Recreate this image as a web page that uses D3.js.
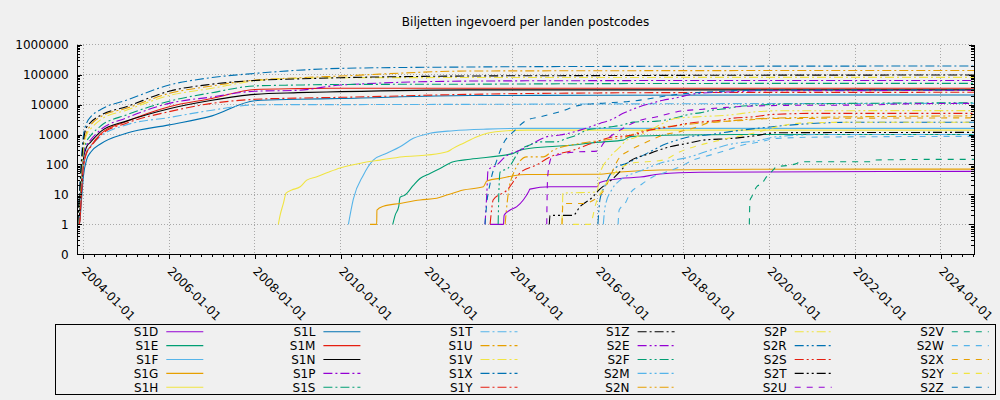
<!DOCTYPE html>
<html>
<head>
<meta charset="utf-8">
<script src="https://cdn.jsdelivr.net/npm/d3@7"></script>
<style>
body { margin: 0; background: #f0f0f0; }
svg { display: block; font-family: "DejaVu Sans", sans-serif; }
</style>
</head>
<body>
<svg id="chart"></svg>
<script>
const title = 'Biljetten ingevoerd per landen postcodes';

const seriesNames = ['S1D', 'S1E', 'S1F', 'S1G', 'S1H', 'S1L', 'S1M', 'S1N', 'S1P', 'S1S',
    'S1T', 'S1U', 'S1V', 'S1X', 'S1Y', 'S1Z', 'S2E', 'S2F', 'S2M', 'S2N',
    'S2P', 'S2R', 'S2S', 'S2T', 'S2U', 'S2V', 'S2W', 'S2X', 'S2Y', 'S2Z'];

const xTickLabels = ['2004-01-01', '2006-01-01', '2008-01-01', '2010-01-01', '2012-01-01', '2014-01-01',
    '2016-01-01', '2018-01-01', '2020-01-01', '2022-01-01', '2024-01-01'];
const yTickValues = [0.1, 1, 10, 100, 1000, 10000, 100000, 1000000];

/* postcodes that started with the launch share these dates */
const earlyDates = ['2003-11-12', '2003-11-28', '2003-12-15', '2004-01-01', '2004-01-30', '2004-03-01',
    '2004-06-01', '2005-01-01', '2006-01-01', '2007-01-01', '2008-01-01', '2009-01-01',
    '2010-01-01', '2013-01-01', '2016-01-01', '2020-01-01', '2024-10-13'];

const S1L = [1, 1, 6, 40, 150, 250, 500, 1100, 2100, 4200, 13500, 15000, 16000, 20000, 20500, 21000, 21000];
const S1M = [1, 1, 10, 80, 250, 400, 1100, 2700, 8500, 16000, 32000, 34000, 35000, 35000, 35000, 35000, 35000];
const S1N = [1, 2, 20, 150, 400, 550, 1300, 2800, 7300, 14000, 22000, 25000, 27000, 31000, 31000, 31000, 31000];
const S1P = [1, 3, 25, 200, 450, 650, 1500, 3600, 11000, 18000, 28000, 30000, 45000, 61000, 63000, 64000, 64000];
const S1S = [1, 4, 30, 250, 600, 900, 2000, 4500, 13000, 25000, 42000, 45000, 47000, 48000, 50000, 51000, 51000];
const S1T = [1, 2, 15, 100, 280, 400, 900, 2100, 3700, 6500, 9800, 10000, 10000, 10200, 10500, 10800, 11000];
const S1U = [1, 6, 60, 400, 1200, 2000, 4000, 7500, 23600, 42000, 66000, 78000, 90000, 132000, 135000, 137000, 138000];
const S1V = [1, 5, 50, 350, 1000, 1500, 3200, 6500, 20000, 35000, 62000, 75000, 79000, 80000, 80500, 81000, 81000];
const S1X = [1, 10, 150, 900, 2500, 3800, 7000, 14000, 45000, 80000, 110000, 140000, 162000, 180000, 188000, 192000, 194000];
const S1Y = [1, 1, 12, 90, 260, 380, 1000, 2400, 5800, 11000, 15000, 16500, 17500, 22000, 24500, 25500, 25700];
const S1Z = [1, 8, 100, 600, 1800, 2500, 4500, 8500, 28000, 48000, 64000, 72000, 79000, 90000, 93000, 96000, 97000];

/* later postcodes: [date, count] */
const S1D = [['2013-06-27', 1], ['2013-10-19', 1], ['2013-10-25', 2], ['2013-12-15', 3], ['2014-02-10', 3.9],
    ['2014-04-06', 6.5], ['2014-05-20', 12], ['2014-06-02', 15], ['2014-11-20', 18], ['2015-12-25', 18],
    ['2016-01-19', 25], ['2016-07-09', 34], ['2016-12-27', 38], ['2017-06-14', 48], ['2018-05-21', 55],
    ['2024-10-13', 59]];
const S1E = [['2011-03-21', 1], ['2011-04-10', 2], ['2011-05-11', 4], ['2011-05-22', 8], ['2011-07-03', 9.5],
    ['2011-09-12', 20], ['2011-11-08', 34], ['2012-02-01', 50], ['2012-04-27', 74], ['2012-08-18', 123],
    ['2013-01-08', 150], ['2014-01-12', 235], ['2014-03-09', 300], ['2014-10-26', 390], ['2015-06-04', 445],
    ['2015-09-28', 505], ['2016-02-17', 570], ['2016-08-04', 650], ['2016-10-03', 850], ['2017-12-02', 960],
    ['2019-08-16', 1000], ['2024-10-13', 1000]];
const S1F = [['2010-03-08', 1], ['2010-04-19', 7], ['2010-07-13', 44], ['2010-10-06', 140], ['2011-01-29', 236],
    ['2011-05-22', 390], ['2011-09-12', 745], ['2012-02-01', 1100], ['2012-08-18', 1340], ['2013-05-30', 1520],
    ['2014-03-09', 1600], ['2024-10-13', 1600]];
const S1G = [['2010-09-08', 1], ['2010-11-04', 1], ['2010-11-06', 3], ['2010-12-31', 4], ['2011-05-22', 5],
    ['2011-11-08', 6.5], ['2012-03-29', 7.4], ['2012-06-23', 9.5], ['2012-11-11', 14], ['2013-05-01', 18],
    ['2013-05-30', 28], ['2013-10-19', 36], ['2014-01-12', 42], ['2014-05-05', 46], ['2016-01-02', 47],
    ['2016-07-09', 56], ['2017-06-14', 65], ['2019-08-16', 69], ['2024-10-13', 70]];
const S1H = [['2008-07-19', 1], ['2008-08-03', 2], ['2008-08-31', 5], ['2008-09-23', 11], ['2008-11-10', 14],
    ['2009-01-21', 18], ['2009-03-18', 30], ['2009-06-12', 39], ['2009-09-18', 55], ['2009-12-27', 76],
    ['2010-07-10', 114], ['2010-12-02', 140], ['2011-06-17', 182], ['2012-01-07', 206], ['2012-06-26', 265],
    ['2012-08-16', 345], ['2012-11-08', 505], ['2013-03-08', 850], ['2013-06-02', 1100], ['2013-11-19', 1340],
    ['2014-05-08', 1400], ['2024-10-13', 1400]];
const S2E = [['2013-05-15', 1], ['2013-05-30', 10], ['2013-06-10', 65], ['2013-08-24', 96], ['2013-11-02', 180],
    ['2014-03-09', 300], ['2014-06-02', 445], ['2014-10-26', 850], ['2015-02-13', 960], ['2015-08-03', 1400],
    ['2016-01-19', 2350], ['2016-04-15', 3000], ['2016-08-04', 5100], ['2016-10-20', 6900], ['2017-04-16', 11500],
    ['2017-07-10', 14000], ['2017-10-03', 16000], ['2018-04-26', 23500], ['2019-04-01', 27000],
    ['2019-10-14', 29000], ['2024-10-13', 29500]];
const S2F = [['2013-09-04', 1], ['2013-09-12', 20], ['2013-09-21', 56], ['2013-11-28', 76], ['2014-03-09', 300],
    ['2014-06-02', 450], ['2014-08-27', 570], ['2015-01-16', 570], ['2015-04-11', 745], ['2015-07-05', 960],
    ['2015-09-28', 1400], ['2016-01-02', 1600], ['2016-04-15', 1800], ['2016-08-04', 2100], ['2016-10-28', 2600],
    ['2017-05-20', 2800], ['2017-12-02', 3900], ['2018-02-25', 4800], ['2018-05-21', 5300], ['2018-09-09', 6600],
    ['2019-01-05', 7400], ['2019-04-01', 8500], ['2019-10-14', 9600], ['2020-02-02', 10300], ['2024-10-13', 11500]];
const S2M = [['2016-02-17', 1], ['2016-03-03', 3.9], ['2016-05-02', 15], ['2016-07-09', 30], ['2016-12-27', 60],
    ['2017-06-14', 110], ['2018-02-25', 180], ['2018-08-14', 300], ['2019-01-05', 445], ['2019-10-14', 650],
    ['2020-03-07', 850], ['2021-03-08', 1000], ['2024-10-13', 1000]];
const S2N = [['2013-11-02', 1], ['2013-11-28', 10], ['2014-01-12', 50], ['2014-05-05', 180], ['2014-09-24', 180],
    ['2014-12-18', 300], ['2015-08-03', 505], ['2016-02-17', 650], ['2016-09-04', 850], ['2016-12-27', 1250],
    ['2017-12-27', 2100], ['2019-01-05', 2800], ['2019-12-13', 3500], ['2024-10-13', 4200]];
const S2P = [['2015-03-02', 1], ['2015-03-11', 11], ['2015-12-25', 12], ['2016-01-19', 50], ['2016-04-15', 180],
    ['2016-07-09', 390], ['2016-09-04', 650], ['2016-10-28', 750], ['2017-02-24', 1250], ['2017-11-06', 3500],
    ['2018-04-26', 3900], ['2019-01-31', 4500], ['2019-09-19', 5800], ['2020-03-07', 6200], ['2024-10-13', 6300]];
const S2R = [['2016-01-02', 1], ['2016-01-19', 6.5], ['2016-03-03', 20], ['2016-05-27', 76], ['2016-09-04', 110],
    ['2016-12-27', 180], ['2017-04-16', 300], ['2017-07-10', 445], ['2017-11-06', 650], ['2018-02-25', 850],
    ['2018-07-20', 960], ['2019-01-31', 1250], ['2019-10-14', 1650], ['2020-09-19', 2200], ['2021-11-19', 2560],
    ['2024-10-13', 2560]];
const S2S = [['2013-06-27', 1], ['2013-07-10', 3], ['2013-07-23', 6.5], ['2013-11-19', 14], ['2014-03-09', 52],
    ['2014-08-01', 98], ['2014-11-20', 178], ['2015-06-04', 300], ['2015-11-21', 520], ['2016-04-15', 800],
    ['2016-10-28', 960], ['2017-02-24', 1340], ['2017-06-14', 1600], ['2017-10-03', 1900], ['2018-01-30', 2350],
    ['2018-11-07', 3000], ['2019-02-26', 3500], ['2019-08-16', 3900], ['2020-02-02', 4700], ['2021-03-08', 5100],
    ['2024-10-13', 5100]];
const S2T = [['2014-11-14', 1], ['2014-11-20', 2], ['2015-06-04', 2], ['2015-08-03', 3.9], ['2015-11-21', 8.4],
    ['2015-12-25', 12], ['2016-05-27', 39], ['2016-07-20', 65], ['2016-09-04', 108], ['2017-03-21', 235],
    ['2017-09-07', 390], ['2018-01-30', 505], ['2018-06-16', 650], ['2019-02-26', 745], ['2019-08-16', 890],
    ['2020-03-07', 1150], ['2024-10-13', 1180]];
const S2U = [['2014-10-23', 1], ['2014-10-28', 20], ['2014-11-03', 52], ['2014-12-07', 180], ['2015-06-21', 260],
    ['2015-12-25', 280], ['2016-03-03', 600], ['2016-07-09', 1400], ['2016-12-27', 3000], ['2017-05-20', 3900],
    ['2017-11-06', 5800], ['2018-06-16', 7000], ['2018-12-03', 7900], ['2019-04-01', 8500], ['2020-09-19', 9500],
    ['2022-03-27', 9600], ['2023-01-19', 10500], ['2024-10-13', 11000]];
const S2V = [['2019-07-15', 1], ['2019-07-21', 6.5], ['2019-08-05', 8.4], ['2019-09-16', 18], ['2019-10-29', 23],
    ['2019-12-10', 39], ['2020-01-07', 50], ['2020-02-02', 65], ['2020-03-05', 84], ['2020-06-26', 95],
    ['2020-08-22', 108], ['2020-09-19', 123], ['2022-05-09', 123], ['2022-06-03', 140], ['2023-12-25', 148],
    ['2024-10-13', 148]];
const S2W = [['2016-06-22', 1], ['2016-07-01', 3], ['2016-08-21', 5], ['2016-10-03', 11], ['2016-12-27', 20],
    ['2017-04-16', 39], ['2017-08-13', 57], ['2017-12-02', 84], ['2018-03-22', 140], ['2018-08-14', 205],
    ['2019-01-05', 300], ['2019-05-22', 445], ['2019-10-14', 570], ['2020-03-07', 745], ['2021-03-08', 820],
    ['2024-10-13', 870]];
const S2X = [['2015-03-02', 1], ['2015-03-11', 5], ['2015-08-28', 5], ['2016-02-03', 11], ['2016-07-09', 180],
    ['2016-10-03', 300], ['2017-02-24', 570], ['2017-07-10', 960], ['2017-12-02', 1250], ['2018-04-26', 1800],
    ['2018-08-14', 2500], ['2019-06-25', 3000], ['2019-12-13', 3400], ['2024-10-13', 3600]];
const S2Y = [['2015-06-04', 1], ['2015-10-26', 1], ['2015-12-16', 5], ['2016-03-03', 20], ['2016-07-09', 74],
    ['2016-10-03', 108], ['2017-07-10', 140], ['2017-12-02', 265], ['2018-11-07', 650], ['2019-08-16', 1100],
    ['2020-03-07', 1800], ['2020-09-19', 2400], ['2021-11-19', 2560], ['2024-10-13', 2560]];
const S2Z = [['2013-05-15', 1], ['2013-05-30', 5], ['2013-06-27', 23], ['2013-08-24', 140], ['2013-10-19', 505],
    ['2014-01-12', 1240], ['2014-05-05', 3000], ['2014-08-27', 3900], ['2015-02-13', 5800], ['2015-08-03', 9600],
    ['2016-01-19', 11000], ['2016-09-04', 12500], ['2018-01-30', 23700], ['2020-03-05', 30700],
    ['2024-10-13', 30700]];

const earlySeries = {S1L, S1M, S1N, S1P, S1S, S1T, S1U, S1V, S1X, S1Y, S1Z};
const lateSeries = {S1D, S1E, S1F, S1G, S1H, S2E, S2F, S2M, S2N, S2P, S2R, S2S, S2T, S2U, S2V, S2W, S2X, S2Y, S2Z};

const colors = ['#9400d3', '#009e73', '#56b4e9', '#e69f00', '#f0e442', '#0072b2', '#e51e10', '#000000'];
const dashes = [null, '9,3,2,3', '9,3,2,3,2,3', '6,6'];

const parseDate = d3.timeParse('%Y-%m-%d');

const series = seriesNames.map((name, i) => {
    let points;
    if (earlySeries[name]) {
        points = earlySeries[name].map((v, j) => ({date: parseDate(earlyDates[j]), value: v}));
    } else {
        points = lateSeries[name].map(p => ({date: parseDate(p[0]), value: p[1]}));
    }
    return {name: name, points: points, color: colors[i % 8], dash: dashes[Math.floor(i / 8)]};
});

draw_chart();

function draw_chart() {
    const plot = {left: 76.7, right: 974.3, top: 44.7, bottom: 254.3};

    const svg = d3.select('#chart')
        .attr('width', 1000)
        .attr('height', 400);

    svg.append('rect')
        .attr('width', 1000)
        .attr('height', 400)
        .attr('fill', '#f0f0f0');

    const x = d3.scaleTime()
        .domain([parseDate('2003-11-05'), parseDate('2024-10-13')])
        .range([plot.left, plot.right]);

    const y = d3.scaleLog()
        .domain([0.1, 1000000])
        .range([plot.bottom, plot.top]);

    /* title */
    svg.append('text')
        .attr('x', 525.5)
        .attr('y', 26)
        .attr('text-anchor', 'middle')
        .attr('font-size', 12)
        .text(title);

    /* dotted grid */
    const grid = svg.append('g')
        .attr('stroke', '#a8a8a8')
        .attr('stroke-width', 1)
        .attr('stroke-dasharray', '1,2')
        .attr('shape-rendering', 'crispEdges');

    grid.selectAll('.gy')
        .data(yTickValues.slice(1))
        .enter().append('line')
        .attr('x1', plot.left)
        .attr('x2', plot.right)
        .attr('y1', d => y(d))
        .attr('y2', d => y(d));

    grid.selectAll('.gx')
        .data(xTickLabels.map(parseDate))
        .enter().append('line')
        .attr('x1', d => x(d))
        .attr('x2', d => x(d))
        .attr('y1', plot.top)
        .attr('y2', plot.bottom);

    /* lines */
    svg.append('clipPath')
        .attr('id', 'clip')
        .append('rect')
        .attr('x', plot.left)
        .attr('y', plot.top - 2)
        .attr('width', plot.right - plot.left)
        .attr('height', plot.bottom - plot.top + 2);

    const line = d3.line()
        .curve(d3.curveMonotoneX)
        .x(d => x(d.date))
        .y(d => y(d.value));

    svg.append('g')
        .attr('clip-path', 'url(#clip)')
        .selectAll('path')
        .data(series)
        .enter().append('path')
        .attr('fill', 'none')
        .attr('stroke', d => d.color)
        .attr('stroke-width', 1.1)
        .attr('stroke-dasharray', d => d.dash)
        .attr('d', d => line(d.points));

    /* minor log ticks */
    const minorY = [];
    for (let k = -1; k <= 5; k++) {
        for (let m = 2; m <= 9; m++) minorY.push(m * Math.pow(10, k));
    }

    const styleAxis = g => g
        .attr('font-size', 12)
        .attr('font-family', '"DejaVu Sans", sans-serif')
        .attr('shape-rendering', 'crispEdges');

    /* left axis */
    svg.append('g')
        .attr('transform', 'translate(' + plot.left + ',0)')
        .call(d3.axisLeft(y)
            .tickValues(yTickValues)
            .tickFormat(d => d < 1 ? '0' : d3.format('d')(d))
            .tickSize(-5)
            .tickSizeOuter(0)
            .tickPadding(8))
        .call(styleAxis)
        .selectAll('text')
        .attr('fill', '#000');

    svg.append('g')
        .attr('transform', 'translate(' + plot.left + ',0)')
        .call(d3.axisLeft(y).tickValues(minorY).tickFormat('').tickSize(-3).tickSizeOuter(0))
        .call(styleAxis)
        .call(g => g.select('.domain').remove());

    /* right axis, mirrored ticks */
    svg.append('g')
        .attr('transform', 'translate(' + plot.right + ',0)')
        .call(d3.axisRight(y).tickValues(yTickValues).tickFormat('').tickSize(-5).tickSizeOuter(0))
        .call(styleAxis);

    svg.append('g')
        .attr('transform', 'translate(' + plot.right + ',0)')
        .call(d3.axisRight(y).tickValues(minorY).tickFormat('').tickSize(-3).tickSizeOuter(0))
        .call(styleAxis)
        .call(g => g.select('.domain').remove());

    /* bottom axis */
    const xAxis = svg.append('g')
        .attr('transform', 'translate(0,' + plot.bottom + ')')
        .call(d3.axisBottom(x)
            .tickValues(xTickLabels.map(parseDate))
            .tickFormat(d3.timeFormat('%Y-%m-%d'))
            .tickSize(5)
            .tickSizeOuter(0))
        .call(styleAxis);

    xAxis.selectAll('text')
        .attr('fill', '#000')
        .attr('text-anchor', 'start')
        .attr('x', -3)
        .attr('y', 17.7)
        .attr('dy', null)
        .attr('transform', 'rotate(45,-3,17.7)');

    svg.append('g')
        .attr('transform', 'translate(0,' + plot.bottom + ')')
        .call(d3.axisBottom(x)
            .ticks(d3.timeMonth.every(3))
            .tickFormat('')
            .tickSize(3)
            .tickSizeOuter(0))
        .call(styleAxis)
        .call(g => g.select('.domain').remove());

    /* legend */
    const legendBox = {x: 55.5, y: 324.5, w: 940, h: 69.5};
    svg.append('rect')
        .attr('x', legendBox.x)
        .attr('y', legendBox.y)
        .attr('width', legendBox.w)
        .attr('height', legendBox.h)
        .attr('fill', 'none')
        .attr('stroke', '#000')
        .attr('shape-rendering', 'crispEdges');

    const legend = svg.selectAll('.legend')
        .data(series)
        .enter().append('g')
        .attr('class', 'legend')
        .attr('transform', (d, i) => 'translate(' + (158.3 + Math.floor(i / 5) * 157.1) + ',' + (331.7 + (i % 5) * 13.9) + ')');

    legend.append('text')
        .attr('text-anchor', 'end')
        .attr('font-size', 12)
        .attr('dy', '0.36em')
        .text(d => d.name);

    legend.append('line')
        .attr('x1', 8)
        .attr('x2', 45)
        .attr('stroke', d => d.color)
        .attr('stroke-width', 1.1)
        .attr('stroke-dasharray', d => d.dash);
}
</script>
</body>
</html>
